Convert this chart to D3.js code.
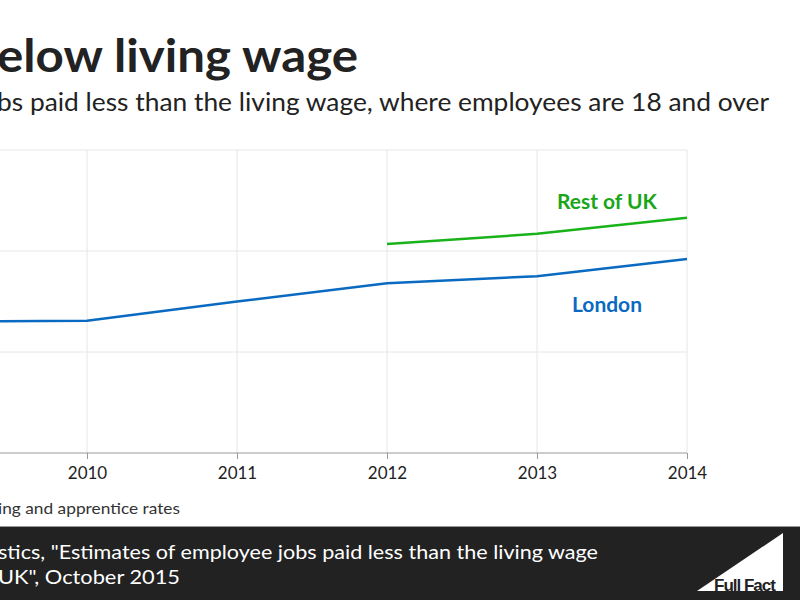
<!DOCTYPE html>
<html><head><meta charset="utf-8">
<script src="https://cdn.jsdelivr.net/npm/d3@7"></script>
<style>body{margin:0;background:#fff}svg{display:block}</style>
</head><body>
<script>
const years = [2009, 2010, 2011, 2012, 2013, 2014];
const london = [16.5, 16.55, 17.5, 18.4, 18.75, 19.6];
const restYears = [2012, 2013, 2014];
const restOfUK = [20.35, 20.85, 21.65];
const yTicks = [10, 15, 20, 25];
const xTicks = [2010, 2011, 2012, 2013, 2014];

const W = 800, H = 600;
const svg = d3.select("body").append("svg").attr("width", W).attr("height", H);
const font = "Lato, 'Open Sans', sans-serif";
const x = d3.scaleLinear().domain([2010, 2014]).range([87, 687]);
const y = d3.scaleLinear().domain([10, 25]).range([453, 150]);

function txt(xp, yp, size, weight, fill, s, len) {
  const t = svg.append("text").attr("x", xp).attr("y", yp).attr("font-family", font)
    .attr("font-size", size).attr("font-weight", weight).attr("fill", fill).text(s);
  if (len) t.attr("textLength", len).attr("lengthAdjust", "spacingAndGlyphs");
  return t;
}
txt(-3, 72, 46, 700, "#222", "elow living wage", 361);
txt(-3, 111, 25, 400, "#222", "bs paid less than the living wage, where employees are 18 and over", 772);

svg.append("g").selectAll("line").data(yTicks.slice(1)).join("line")
  .attr("x1", 0).attr("x2", 687).attr("y1", d => y(d)).attr("y2", d => y(d))
  .attr("stroke", "#e6e6e6");
svg.append("g").selectAll("line").data(xTicks).join("line")
  .attr("x1", d => x(d)).attr("x2", d => x(d)).attr("y1", 150).attr("y2", 453)
  .attr("stroke", "#e6e6e6");

const ax = svg.append("g").attr("transform", "translate(0,453)")
  .call(d3.axisBottom(x).tickValues(xTicks).tickFormat(d3.format("d")).tickSize(6).tickPadding(8));
ax.select(".domain").attr("d", "M0,0H687").attr("stroke", "#999");
ax.selectAll(".tick line").attr("stroke", "#999");
ax.selectAll("text").attr("font-family", font).attr("font-size", 17).attr("fill", "#222");

const line = d3.line().x(d => x(d[0])).y(d => y(d[1]));
svg.append("path").datum(years.map((d, i) => [d, london[i]])).attr("d", line)
  .attr("fill", "none").attr("stroke", "#0a6ac1").attr("stroke-width", 2.5);
svg.append("path").datum(restYears.map((d, i) => [d, restOfUK[i]])).attr("d", line)
  .attr("fill", "none").attr("stroke", "#19b319").attr("stroke-width", 2.5);

txt(557, 209, 20, 700, "#19a619", "Rest of UK", 100);
txt(572, 312, 20, 700, "#0a6ac1", "London", 70);

txt(-2, 514, 16, 400, "#333", "ing and apprentice rates", 182);

svg.append("rect").attr("x", 0).attr("y", 526).attr("width", W).attr("height", 2).attr("fill", "#999");
svg.append("rect").attr("x", 0).attr("y", 527).attr("width", W).attr("height", 73).attr("fill", "#222");
txt(-2, 559, 20, 400, "#fff", "stics, \"Estimates of employee jobs paid less than the living wage", 600);
txt(-2, 584, 20, 400, "#fff", " UK\", October 2015", 182);

svg.append("path").attr("d", "M697,591L783,533L783,591Z").attr("fill", "#fff");
svg.append("text").attr("x", 714).attr("y", 591).attr("font-family", "Liberation Sans, Arial, sans-serif")
  .attr("font-weight", 700).attr("font-size", 17).attr("fill", "#222").attr("letter-spacing", -1).text("Full Fact");
</script>
</body></html>
